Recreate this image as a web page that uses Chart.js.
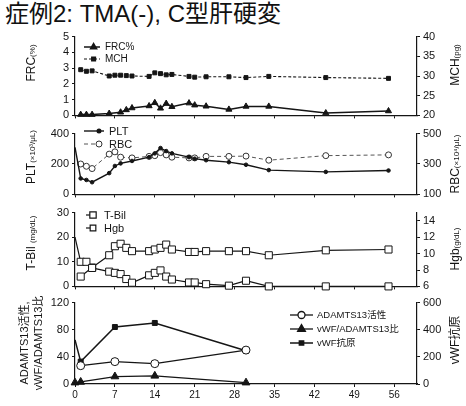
<!DOCTYPE html>
<html>
<head>
<meta charset="utf-8">
<script src="https://cdn.jsdelivr.net/npm/chart.js@4/dist/chart.umd.min.js"></script>
<style>
  body { margin: 0; background: #fff; }
  #wrap { position: relative; width: 466px; height: 406px; overflow: hidden; }
  #title { position: absolute; left: 5px; top: -2px; font: 24px "Liberation Sans", "Noto Sans CJK JP"; color: #111; line-height: 32px; white-space: nowrap; }
  canvas { position: absolute; left: 0; }
</style>
</head>
<body>
<div id="wrap">
  <div id="title">症例2: TMA(-), C型肝硬変</div>
  <canvas id="c1" width="466" height="98" style="top:27px"></canvas>
  <canvas id="c2" width="466" height="80" style="top:124px"></canvas>
  <canvas id="c3" width="466" height="93" style="top:203px"></canvas>
  <canvas id="c4" width="466" height="113" style="top:293px"></canvas>
</div>
<script>
// Data (days after admission)
const days = [0, 1, 2, 3, 6, 7, 8, 9, 10, 13, 14, 15, 16, 17, 20, 21, 23, 27, 30, 34, 44, 55];
const dayTicks = [0, 7, 14, 21, 28, 35, 42, 49, 56];

const frc = [null, 0.05, 0.05, 0.05, 0.12, null, 0.2, 0.35, 0.47, 0.6, 0.8, 0.45, 0.75, 0.55, 0.78, 0.65, 0.58, 0.38, 0.57, 0.57, 0.15, 0.28];
const mch = [null, 31.6, 31.2, 31.3, 30.0, 30.2, 30.2, 30.1, 30.0, 29.9, 30.8, 30.6, 30.3, 30.4, 29.9, 29.7, 29.8, 29.8, 29.6, 29.9, 29.6, 29.4];

const plt = [310, 105, 95, 80, 140, 187, 204, null, 220, 245, 270, 305, 285, 270, 245, 235, 225, 212, 195, 160, 148, 157];
const rbc = [null, 300, 285, 270, 365, 380, 345, null, 340, 350, 355, 375, 360, 345, 340, 340, 350, 350, 352, 325, 355, 360];

const tbil = [20, 10, 10, 7.5, 6, 5.5, 5, 3, 1.5, 4.5, 5.5, 6.5, 4, 2.8, 1.6, 1.6, 0.9, 0.3, 2.3, 0, 0, 0];
const hgb = [null, 7.2, null, 8.3, 9.8, 10.9, 11.2, 10.7, 10.3, 10.3, 10.5, 10.7, 11.1, 10.5, 10.2, 10.2, 10.3, 10.3, 10.3, 9.8, 10.4, 10.5];
const hgbTicks = [6, 8, 10, 12, 14];

const adDays = [0, 1, 7, 14, 30];
const adamts = [null, 27, 33, 30, 50];
const ratio = [2, 3, 11, 12, 2];
const vwf = [325, 165, 420, 450, 245];

const FONT = '"Liberation Sans", "Noto Sans CJK JP", sans-serif';
const INK = '#151515';

const pts = (xs, ys) => xs.map((x, i) => ({ x: x, y: ys[i] }));
// no marker on the day-0 starting value
const skipFirst = (r) => (ctx) => (ctx.dataIndex === 0 ? 0 : r);

// rotated axis titles with a smaller unit part
const sideTitles = {
  id: 'sideTitles',
  afterDraw(chart, args, opts) {
    const ctx = chart.ctx;
    (opts.items || []).forEach((t) => {
      ctx.save();
      ctx.translate(t.x, t.y);
      ctx.rotate(-Math.PI / 2);
      ctx.fillStyle = INK;
      ctx.textBaseline = 'alphabetic';
      let w = 0;
      t.parts.forEach((p) => { ctx.font = p[1] + 'px ' + FONT; w += ctx.measureText(p[0]).width; });
      let x = -w / 2;
      const base = t.parts[0][1] * 0.36;
      t.parts.forEach((p) => {
        ctx.font = p[1] + 'px ' + FONT;
        ctx.fillText(p[0], x, base);
        x += ctx.measureText(p[0]).width;
      });
      ctx.restore();
    });
  }
};

// legend drawn as line + marker like the original figure
const lineLegend = {
  id: 'lineLegend',
  afterDatasetsDraw(chart, args, opts) {
    if (opts.x === undefined) return;
    const ctx = chart.ctx;
    chart.data.datasets.forEach((ds, i) => {
      const y = opts.y + i * opts.gap;
      const x0 = opts.x, x1 = opts.x + opts.len;
      ctx.save();
      ctx.strokeStyle = ds.borderColor;
      ctx.lineWidth = ds.borderWidth;
      ctx.setLineDash(ds.borderDash || []);
      ctx.beginPath(); ctx.moveTo(x0, y); ctx.lineTo(x1, y); ctx.stroke();
      ctx.setLineDash([]);
      ctx.fillStyle = ds.pointBackgroundColor;
      ctx.strokeStyle = ds.pointBorderColor;
      Chart.helpers.drawPoint(ctx, { pointStyle: ds.pointStyle, radius: ds.legendRadius, rotation: 0, borderWidth: 1 }, x0 + opts.len * (opts.mark || 0.5), y);
      ctx.fillStyle = INK;
      ctx.font = opts.font;
      ctx.textBaseline = 'middle';
      ctx.fillText(ds.label, x1 + opts.pad, y + 0.5);
      ctx.restore();
    });
  }
};

function xScale(showLabels, h) {
  return {
    type: 'linear', min: 0, max: 60,
    afterBuildTicks: (s) => { s.ticks = dayTicks.map((v) => ({ value: v })); },
    afterFit: (s) => { s.height = h; },
    grid: { drawOnChartArea: false, tickLength: 3, color: INK },
    border: { display: true, color: INK, width: 1.2 },
    ticks: { display: showLabels, color: INK, font: { family: FONT, size: 10 }, padding: 2, maxRotation: 0 }
  };
}

function yScale(pos, min, max, step, list) {
  const s = {
    position: pos, min: min, max: max,
    afterFit: (sc) => { sc.width = pos === 'left' ? 75 : 49; },
    grid: { drawOnChartArea: false, tickLength: 3, color: INK },
    border: { display: true, color: INK, width: 1.2 },
    ticks: { stepSize: step, color: INK, font: { family: FONT, size: 11 }, padding: 3 }
  };
  if (list) s.afterBuildTicks = (sc) => { sc.ticks = list.map((v) => ({ value: v })); };
  return s;
}

function line(label, data, o) {
  return Object.assign({
    label: label, data: data, borderColor: INK, borderWidth: 1.3, tension: 0,
    pointBorderColor: INK, pointBackgroundColor: INK, pointBorderWidth: 1,
    spanGaps: true, clip: false, yAxisID: 'y'
  }, o);
}

function panel(id, xAxisH, showX, datasets, yL, yR, titles, legend) {
  return new Chart(document.getElementById(id), {
    type: 'line',
    data: { datasets: datasets },
    options: {
      responsive: false, animation: false,
      layout: { padding: { top: 8, left: 0, right: 0, bottom: 0 } },
      scales: { x: xScale(showX, xAxisH), y: yL, y1: yR },
      plugins: {
        legend: { display: false }, tooltip: { enabled: false },
        sideTitles: { items: titles }, lineLegend: legend
      }
    },
    plugins: [sideTitles, lineLegend]
  });
}

// Panel 1: FRC% / MCH
panel('c1', 8, false, [
  line('FRC%', pts(days, frc), { borderWidth: 1.5, pointStyle: 'triangle', pointRadius: 3.5, legendRadius: 3.5 }),
  line('MCH', pts(days, mch), { yAxisID: 'y1', borderWidth: 1.1, borderDash: [3, 2], pointStyle: 'rect', pointRadius: 2.8, legendRadius: 2.8 })
], yScale('left', 0, 5, 1), yScale('right', 20, 40, 5),
[{ x: 31, y: 36, parts: [['FRC', 12], ['(%)', 8]] }, { x: 455, y: 38, parts: [['MCH', 12], ['(pg)', 8]] }],
{ x: 84, y: 20, gap: 12, len: 16, pad: 5, mark: 0.6, font: '10px ' + FONT });

// Panel 2: PLT / RBC
panel('c2', 8, false, [
  line('PLT', pts(days, plt), { borderWidth: 1.4, pointStyle: 'circle', pointRadius: skipFirst(1.8), legendRadius: 1.8 }),
  line('RBC', pts(days, rbc), { yAxisID: 'y1', borderWidth: 1, borderColor: '#555', borderDash: [4, 3], pointStyle: 'circle', pointRadius: 3, pointBackgroundColor: '#fff', pointBorderColor: '#333', legendRadius: 3 })
], yScale('left', 0, 400, 100), yScale('right', 100, 500, 100),
[{ x: 31, y: 33, parts: [['PLT', 12], ['(×10³/μL)', 8]] }, { x: 455, y: 40, parts: [['RBC', 12], ['(×10⁴/μL)', 8]] }],
{ x: 84, y: 7, gap: 13, len: 20, pad: 5, mark: 0.75, font: '11px ' + FONT });

// Panel 3: T-Bil / Hgb
panel('c3', 8, false, [
  line('T-Bil', pts(days, tbil), { borderWidth: 1.2, pointStyle: 'rect', pointRadius: skipFirst(5), pointBackgroundColor: '#fff', legendRadius: 4.5 }),
  line('Hgb', pts(days, hgb), { yAxisID: 'y1', borderWidth: 1.2, pointStyle: 'rect', pointRadius: 5, pointBackgroundColor: '#fff', legendRadius: 4 })
], yScale('left', 0, 30, 5), yScale('right', 6, 15, 2, hgbTicks),
[{ x: 31, y: 40, parts: [['T-Bil ', 12], ['(mg/dL)', 8]] }, { x: 455, y: 46, parts: [['Hgb', 12], ['(g/dL)', 8]] }],
{ x: 86, y: 12, gap: 13, len: 10, pad: 8, mark: 0.7, font: '11px ' + FONT });

// Panel 4: ADAMTS13 / vWF
panel('c4', 22, true, [
  line('ADAMTS13活性', pts(adDays, adamts), { borderWidth: 1.3, pointStyle: 'circle', pointRadius: 4, pointBackgroundColor: '#fff', legendRadius: 3.5 }),
  line('vWF/ADAMTS13比', pts(adDays, ratio), { borderWidth: 1.3, pointStyle: 'triangle', pointRadius: 4.5, legendRadius: 4.5 }),
  line('vWF抗原', pts(adDays, vwf), { yAxisID: 'y1', borderWidth: 1.5, pointStyle: 'rect', pointRadius: skipFirst(3.5), legendRadius: 3 })
], yScale('left', 0, 120, 20), yScale('right', 0, 600, 100),
[{ x: 24, y: 50, parts: [['ADAMTS13活性,', 11]] }, { x: 38, y: 50, parts: [['vWF/ADAMTS13比', 11]] }, { x: 455, y: 47, parts: [['vWF抗原', 12]] }],
{ x: 290, y: 22, gap: 14, len: 23, pad: 4, font: '9.5px ' + FONT });
</script>
</body>
</html>
